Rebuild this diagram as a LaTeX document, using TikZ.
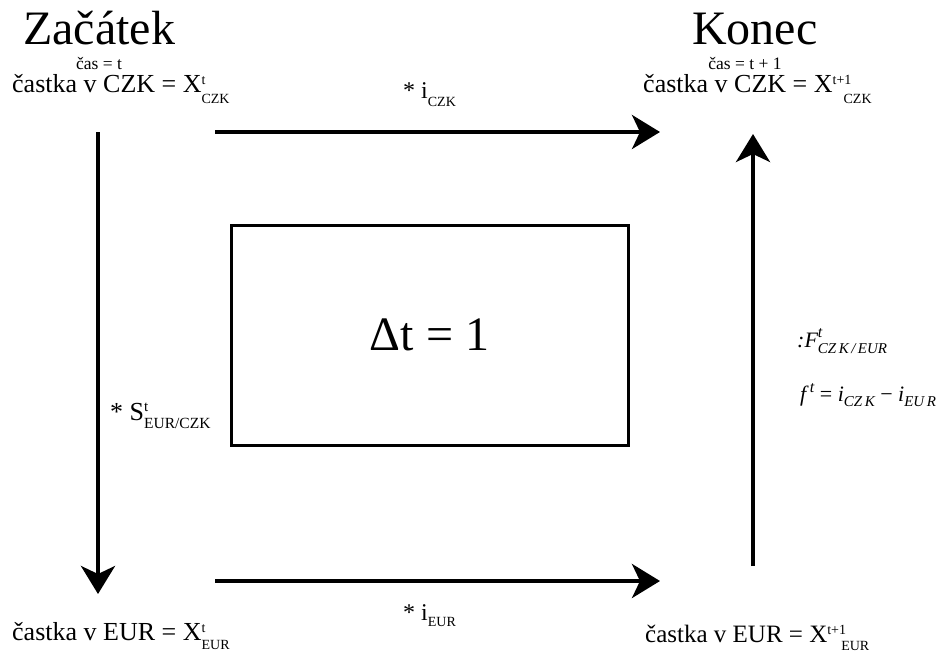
\documentclass[tikz,border=0pt]{standalone}
\usepackage{fontspec}
\setmainfont{Liberation Serif}
\usetikzlibrary{arrows.meta}
\newcommand\fs[1]{\fontsize{#1}{#1}\selectfont}
\newcommand\SupSub[4][0pt]{\makebox[0pt][l]{\raisebox{8pt}{\fs{14}#2}}\hspace{#1}\raisebox{-#4}{\fs{14}#3}}
\begin{document}
\begin{tikzpicture}[x=1pt,y=-1pt,
  txt/.style={inner sep=0pt,anchor=base west},
  arr/.style={line width=4pt,-{Stealth[length=28pt,width=34pt,inset=8pt]}},
  box/.style={draw,line width=3pt}]
\useasboundingbox (0,0) rectangle (942,653);
% titles
\node[txt] (zac) at (23,44) {\fs{48}Začátek};
\node[txt] (kon) at (692,44) {\fs{48}Konec};
\node[inner sep=0pt,anchor=base] (cas1) at (99,69) {\fs{17.5}čas = t};
\node[inner sep=0pt,anchor=base] (cas2) at (745,69) {\fs{17.5}čas = t + 1};
\node[txt] (czk1) at (12,92) {\fs{26}častka v CZK = X\SupSub{t}{CZK}{11pt}};
\node[txt] (czk2) at (643,92) {\fs{26}častka v CZK = X\SupSub[11pt]{t+1}{CZK}{11pt}};
\node[txt] (eur1) at (12,640) {\fs{26}častka v EUR = X\SupSub{t}{EUR}{9pt}};
\node[txt] (eur2) at (645,642) {\fs{25}častka v EUR = X\SupSub[14pt]{t+1}{EUR}{8.5pt}};
% box
\node[box,minimum width=397pt,minimum height=220pt,inner sep=0pt] (dt) at (429.5,335) {\fs{48}Δt = 1};
% arrow end points
\coordinate (a1) at (215,132); \coordinate (a2) at (660,132);
\coordinate (b1) at (215,581); \coordinate (b2) at (660,581);
\coordinate (l1) at (98,132);  \coordinate (l2) at (98,594);
\coordinate (r1) at (753,566); \coordinate (r2) at (753,134);
\draw[arr] (a1) -- (a2);
\draw[arr] (b1) -- (b2);
\draw[arr] (l1) -- (l2);
\draw[arr] (r1) -- (r2);
% labels
\node[txt] (ic) at (403,98) {\fs{24}* i\raisebox{-8pt}{\fs{14}CZK}};
\node[txt] (ie) at (403,620) {\fs{24}* i\raisebox{-6pt}{\fs{14}EUR}};
\node[txt] (s) at (110,420) {\fs{26}* S\makebox[0pt][l]{\raisebox{9pt}{\fs{15}t}}\raisebox{-8pt}{\fs{15.5}EUR/CZK}};
\node[txt] (F) at (797,347) {\fs{22}\itshape :F\makebox[0pt][l]{\raisebox{10pt}{\fs{16}t}}\raisebox{-6pt}{\fs{15}CZ\,K\,/\,EUR}};
\node[txt] (f) at (800,401) {\fs{22}\itshape f\,\raisebox{9pt}{\fs{16}t} {\upshape =} i\raisebox{-5pt}{\fs{15}CZ\,K} {\upshape −} i\raisebox{-5pt}{\fs{15}EU\,R}};
\end{tikzpicture}
\end{document}
